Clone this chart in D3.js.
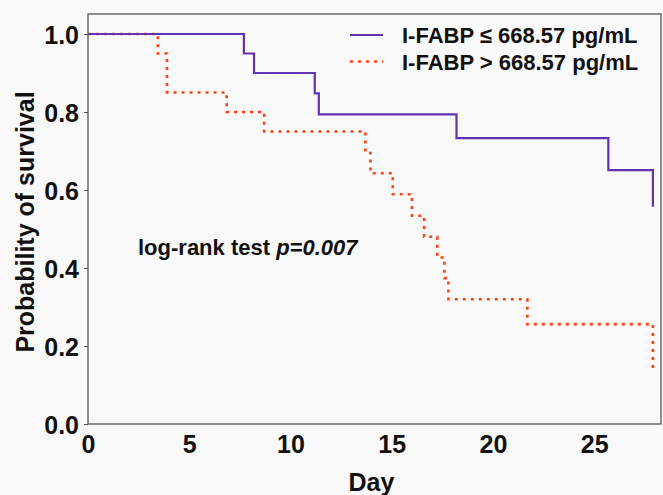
<!DOCTYPE html>
<html>
<head>
<meta charset="utf-8">
<script src="https://cdn.jsdelivr.net/npm/d3@7"></script>
<style>
  body { margin:0; background:#f9f9f9; }
  svg { display:block; font-family:"Liberation Sans", Arial, sans-serif; font-weight:bold; }
</style>
</head>
<body>
<svg></svg>
<script>
// step curves (day of drop, survival after drop)
var lowDays  = [0, 7.7, 8.2, 11.2, 11.4, 18.2, 25.7, 27.9];
var lowSurv  = [1.0, 0.95, 0.90, 0.848, 0.794, 0.733, 0.651, 0.557];
var highDays = [0, 3.45, 3.9, 6.85, 8.7, 13.7, 13.95, 15.05, 16.0, 16.6, 17.25, 17.6, 17.8, 21.7, 27.9];
var highSurv = [1.0, 0.95, 0.85, 0.80, 0.75, 0.695, 0.643, 0.589, 0.534, 0.48, 0.427, 0.374, 0.32, 0.256, 0.143];
var seriesNames = ["I-FABP \u2264 668.57 pg/mL", "I-FABP > 668.57 pg/mL"];
var xTicks = [0, 5, 10, 15, 20, 25];
var yTicks = [0, 0.2, 0.4, 0.6, 0.8, 1.0];

var screen = { width:663, height:495 };
var margins = { top:14, bottom:71, left:88, right:2 };
var width = screen.width - margins.left - margins.right;
var height = screen.height - margins.top - margins.bottom;

var svg = d3.select("svg")
            .attr("width", screen.width)
            .attr("height", screen.height);

var xScale = d3.scaleLinear().domain([0, 28.3]).range([0, width]);
var yScale = d3.scaleLinear().domain([0, 1.0513]).range([height, 0]);

var plotLand = svg.append("g")
                  .attr("transform", "translate(" + margins.left + "," + margins.top + ")");

var toPoints = function(days, surv)
{
  return days.map(function(d, i) { return { day:d, surv:surv[i] }; });
};

var drawLine = d3.line()
                 .x(function(d) { return xScale(d.day); })
                 .y(function(d) { return yScale(d.surv); })
                 .curve(d3.curveStepAfter);

var series = [
  { pts:toPoints(highDays, highSurv), color:"#ff4012", dash:"3,5", w:2.6 },
  { pts:toPoints(lowDays, lowSurv), color:"#6232b4", dash:null, w:2.2 }
];

series.forEach(function(s)
{
  plotLand.append("path")
    .datum(s.pts)
    .attr("d", drawLine)
    .attr("fill", "none")
    .attr("stroke", s.color)
    .attr("stroke-width", s.w)
    .attr("stroke-dasharray", s.dash);
});

// frame
plotLand.append("rect")
  .attr("width", width).attr("height", height)
  .attr("fill", "none").attr("stroke", "#555").attr("stroke-width", 1.3);

// axes
var yAxis = d3.axisLeft(yScale).tickValues(yTicks).tickSize(4).tickPadding(5)
              .tickFormat(d3.format(".1f"));
var yg = plotLand.append("g").call(yAxis);
yg.select(".domain").remove();
yg.selectAll("line").attr("stroke", "#555");
yg.selectAll("text").attr("font-size", 25).attr("fill", "#111").attr("dy", "0.36em");

var xAxis = d3.axisBottom(xScale).tickValues(xTicks).tickSize(0).tickPadding(6);
var xg = plotLand.append("g").attr("transform", "translate(0," + height + ")").call(xAxis);
xg.select(".domain").remove();
xg.selectAll("text").attr("font-size", 25).attr("fill", "#111").attr("dy", "0.9em");

svg.append("text")
  .attr("transform", "translate(34," + (margins.top + height / 2 + 3) + ") rotate(-90)")
  .attr("text-anchor", "middle").attr("font-size", 25).attr("fill", "#111")
  .text("Probability of survival");

svg.append("text")
  .attr("x", margins.left + xScale(14)).attr("y", 491)
  .attr("text-anchor", "middle").attr("font-size", 25).attr("fill", "#111")
  .text("Day");

// legend
var legend = svg.append("g").attr("transform", "translate(350,35)");
var legendLines = legend.selectAll("g")
  .data([series[1], series[0]])
  .enter().append("g")
  .attr("transform", function(d, i) { return "translate(0," + (i * 26.5) + ")"; });

legendLines.append("line")
  .attr("x1", 0).attr("x2", 33).attr("y1", 0).attr("y2", 0)
  .attr("stroke", function(d) { return d.color; })
  .attr("stroke-width", function(d) { return d.w; })
  .attr("stroke-dasharray", function(d) { return d.dash; });

legendLines.append("text")
  .attr("x", 52).attr("y", 8)
  .attr("font-size", 22).attr("fill", "#111")
  .text(function(d, i) { return seriesNames[i]; });

// p value note
var note = svg.append("text")
  .attr("x", 138).attr("y", 255)
  .attr("font-size", 22).attr("fill", "#111");
note.append("tspan").text("log-rank test ");
note.append("tspan").attr("font-style", "italic").text("p=0.007");
</script>
</body>
</html>
